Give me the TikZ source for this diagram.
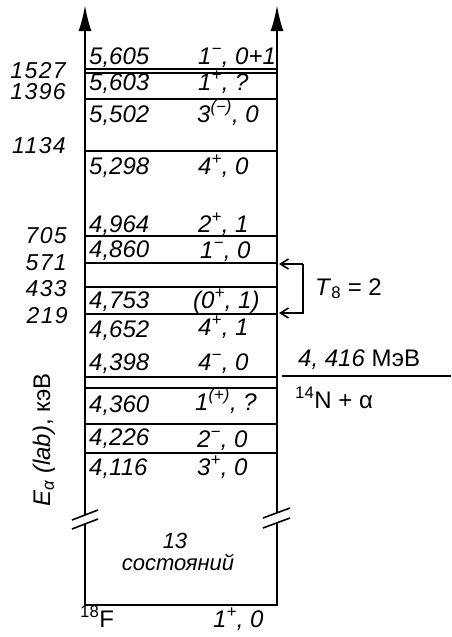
\documentclass[tikz,border=0pt]{standalone}
\usepackage{fontspec}
\setmainfont{Liberation Sans}
\newfontfamily\spacedfont[LetterSpace=6]{Liberation Sans}
\usetikzlibrary{arrows.meta}
\begin{document}
\begin{tikzpicture}[x=1pt,y=-1pt,
  axisline/.style={line width=2.2pt},
  lvl/.style={line width=2pt},
  bigtip/.style={-{Latex[length=26pt,width=13pt]}},
  val/.style={anchor=base west, inner sep=0pt, font=\fontsize{24}{26}\selectfont\itshape},
  en/.style={anchor=base east, inner sep=0pt, font=\spacedfont\fontsize{23}{25}\selectfont\itshape},
  spin/.style={anchor=base west, inner sep=0pt, font=\fontsize{24}{26}\selectfont\itshape},
  up/.style={inner sep=0pt, font=\fontsize{24}{26}\selectfont},
  small/.style={inner sep=0pt, font=\fontsize{22}{24}\selectfont\itshape}]
\useasboundingbox (0,0) rectangle (451,637);

% axes
\coordinate (LB) at (85,605);
\coordinate (RB) at (277,605);
\coordinate (LT) at (85,5);
\coordinate (RT) at (277,5);
\coordinate (LG1) at (85,524);
\coordinate (LG2) at (85,515);
\coordinate (RG1) at (277,523);
\coordinate (RG2) at (277,513);
\draw[axisline] (LG1) -- (LB) -- (RB) -- (RG1);
\draw[axisline,bigtip] (LG2) -- (LT);
\draw[axisline,bigtip] (RG2) -- (RT);
% break marks
\draw[line width=1.6pt] (72,520) -- (98,510);
\draw[line width=1.6pt] (72,529) -- (98,519);
\draw[line width=1.6pt] (263,518) -- (290,508);
\draw[line width=1.6pt] (263,528) -- (290,518);

% levels
\foreach \y in {69,73,99,151,236,263,287,314,377,388,424,453}
  \draw[lvl] (85,\y) -- (277,\y);

% level energies
\node[val] (v1) at (89,64) {5,605};
\node[val] (v2) at (89,90) {5,603};
\node[val] (v3) at (89,122) {5,502};
\node[val] (v4) at (89,174) {5,298};
\node[val] (v5) at (89,232) {4,964};
\node[val] (v6) at (89,257) {4,860};
\node[val] (v7) at (89,308) {4,753};
\node[val] (v8) at (89,337) {4,652};
\node[val] (v9) at (89,370) {4,398};
\node[val] (v10) at (89,412) {4,360};
\node[val] (v11) at (89,445) {4,226};
\node[val] (v12) at (89,475) {4,116};

% spins
\node[spin] (s1) at (198,64) {1\textsuperscript{−}, 0+1};
\node[spin] (s2) at (198,90) {1\textsuperscript{+}, ?};
\node[spin] (s3) at (197,122) {3\textsuperscript{(−)}, 0};
\node[spin] (s4) at (198,174) {4\textsuperscript{+}, 0};
\node[spin] (s5) at (198,232) {2\textsuperscript{+}, 1};
\node[spin] (s6) at (200,258) {1\textsuperscript{−}, 0};
\node[spin] (s7) at (193,308) {(0\textsuperscript{+}, 1)};
\node[spin] (s8) at (198,335) {4\textsuperscript{+}, 1};
\node[spin] (s9) at (198,370) {4\textsuperscript{−}, 0};
\node[spin] (s10) at (195,410) {1\textsuperscript{(+)}, ?};
\node[spin] (s11) at (197,447) {2\textsuperscript{−}, 0};
\node[spin] (s12) at (197,475) {3\textsuperscript{+}, 0};

% alpha energies
\node[en] (e1) at (66,78) {1527};
\node[en] (e2) at (66,99) {1396};
\node[en] (e3) at (66,153) {1134};
\node[en] (e4) at (67,243) {705};
\node[en] (e5) at (67,270) {571};
\node[en] (e6) at (67,296) {433};
\node[en] (e7) at (68,323) {219};

% axis label
\node[up, rotate=90] (axl) at (44,440) {{\itshape E\textsubscript{α} (lab)}, кэВ};

% T8 bracket
\coordinate (ta) at (279,264);
\coordinate (tb) at (279,313);
\coordinate (tc) at (303,264);
\coordinate (td) at (303,313);
\draw[line width=1.6pt, -{Straight Barb[length=8pt,width=10pt]}] (tc) -- (ta);
\draw[line width=1.6pt, -{Straight Barb[length=8pt,width=10pt]}] (tc) -- (td) -- (tb);
\node[up, anchor=base west] (t8) at (315,295) {\textit{T}\textsubscript{8} = 2};

% threshold
\coordinate (th1) at (282,376);
\coordinate (th2) at (451,376);
\draw[line width=1.6pt] (th1) -- (th2);
\node[up, anchor=base west] (thr) at (298,366) {\textit{4, 416} МэВ};
\node[up, anchor=base west] (nal) at (295,408) {\textsuperscript{14}N + α};

% bottom
\node[small, anchor=base] (n13) at (175,548) {13};
\node[small, anchor=base] (sost) at (178,570) {состояний};
\node[up, anchor=base west] (f18) at (80,627) {\textsuperscript{18}F};
\node[spin] (gs) at (213,627) {1\textsuperscript{+}, 0};
\end{tikzpicture}
\end{document}
